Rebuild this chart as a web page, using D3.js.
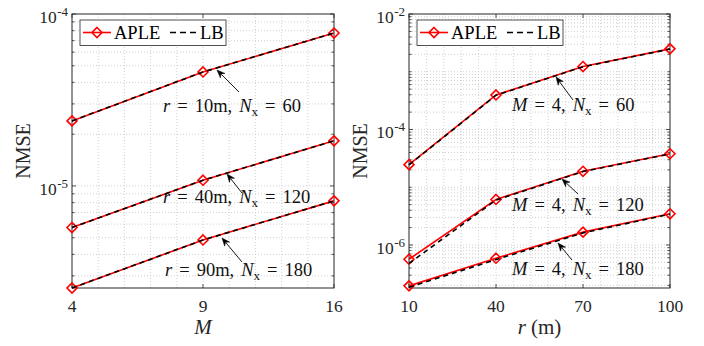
<!DOCTYPE html>
<html><head><meta charset="utf-8">
<script src="https://cdn.jsdelivr.net/npm/d3@7"></script>
<style>body{margin:0;background:#fff} svg{display:block} text{font-family:"Liberation Serif","Times New Roman",serif}</style>
</head><body><svg id="c" width="704" height="346"></svg>
<script>
// ---------- data ----------
const mValues = [4, 9, 16];
const mTickLabels = ["4", "9", "16"];
const apleR10 = [2.39e-5, 4.6e-5, 7.75e-5];
const lbR10   = [2.39e-5, 4.6e-5, 7.75e-5];
const apleR40 = [5.73e-6, 1.08e-5, 1.83e-5];
const lbR40   = [5.73e-6, 1.08e-5, 1.83e-5];
const apleR90 = [2.55e-6, 4.85e-6, 8.19e-6];
const lbR90   = [2.55e-6, 4.85e-6, 8.19e-6];
const leftYTicks = [1e-5, 1e-4];

const rValues = [10, 40, 70, 100];
const rTickLabels = ["10", "40", "70", "100"];
const apleN60  = [2.46e-5, 3.96e-4, 1.23e-3, 2.49e-3];
const lbN60    = [2.44e-5, 3.92e-4, 1.22e-3, 2.47e-3];
const apleN120 = [5.67e-7, 6.14e-6, 1.89e-5, 3.81e-5];
const lbN120   = [4.8e-7, 6.0e-6, 1.87e-5, 3.78e-5];
const apleN180 = [1.96e-7, 5.9e-7, 1.67e-6, 3.47e-6];
const lbN180   = [1.85e-7, 5.6e-7, 1.62e-6, 3.42e-6];
const rightYTicks = [1e-6, 1e-4, 1e-2];

const legendNames = ["APLE", "LB"];
const leftNotes = [
  {m:"r", v:"10m", n:"60"},
  {m:"r", v:"40m", n:"120"},
  {m:"r", v:"90m", n:"180"}
];
const rightNotes = [
  {m:"M", v:"4", n:"60"},
  {m:"M", v:"4", n:"120"},
  {m:"M", v:"4", n:"180"}
];

// ---------- drawing ----------
const svg = d3.select('#c');
const AX = '#262626';
const RED = '#ff0000';

function logGridValues(dom) {
  const out = [];
  const e0 = Math.floor(Math.log10(dom[0])), e1 = Math.ceil(Math.log10(dom[1]));
  for (let e = e0; e <= e1; e++) for (let k = 1; k <= 9; k++) {
    const v = k * Math.pow(10, e);
    if (v > dom[0] * 1.0001 && v < dom[1] * 0.9999) out.push(v);
  }
  return out;
}

function drawPanel(cfg) {
  const {x, y, xTicks, xTickLabels, xMinor, yTicks, xLabel, series, notes} = cfg;
  const [xa, xb] = x.range(); const [yb, ya] = y.range();
  const g = svg.append('g');
  // grid
  const yGrid = logGridValues(y.domain());
  g.selectAll('.gy').data(yGrid).join('line')
    .attr('x1', xa).attr('x2', xb).attr('y1', d => y(d)).attr('y2', d => y(d))
    .attr('stroke', '#c4c4c4').attr('stroke-width', 0.8).attr('stroke-dasharray', '1,2');
  g.selectAll('.gx').data(xMinor).join('line')
    .attr('y1', ya).attr('y2', yb).attr('x1', d => x(d)).attr('x2', d => x(d))
    .attr('stroke', '#c4c4c4').attr('stroke-width', 0.8).attr('stroke-dasharray', '1,2');
  // ticks (inward, on all sides)
  const yMinor = yGrid.filter(v => !yTicks.some(t => Math.abs(t - v) / t < 1e-6));
  const tk = g.append('g').attr('stroke', AX).attr('stroke-width', 0.8);
  yTicks.forEach(v => {
    tk.append('line').attr('x1', xa).attr('x2', xa + 4).attr('y1', y(v)).attr('y2', y(v));
    tk.append('line').attr('x1', xb).attr('x2', xb - 4).attr('y1', y(v)).attr('y2', y(v));
  });
  yMinor.forEach(v => {
    tk.append('line').attr('x1', xa).attr('x2', xa + 2.5).attr('y1', y(v)).attr('y2', y(v));
    tk.append('line').attr('x1', xb).attr('x2', xb - 2.5).attr('y1', y(v)).attr('y2', y(v));
  });
  xTicks.forEach(v => {
    tk.append('line').attr('x1', x(v)).attr('x2', x(v)).attr('y1', yb).attr('y2', yb - 4);
    tk.append('line').attr('x1', x(v)).attr('x2', x(v)).attr('y1', ya).attr('y2', ya + 4);
  });
  // box
  g.append('rect').attr('x', xa).attr('y', ya).attr('width', xb - xa).attr('height', yb - ya)
    .attr('fill', 'none').attr('stroke', AX).attr('stroke-width', 1);
  // x tick labels
  xTicks.forEach((v, i) => {
    g.append('text').attr('x', x(v)).attr('y', 311.5).attr('text-anchor', 'middle')
      .attr('font-size', 17.5).attr('fill', AX).text(xTickLabels[i]);
  });
  // y tick labels
  yTicks.forEach(v => {
    const t = g.append('text').attr('x', xa - 4).attr('y', y(v) + 9).attr('text-anchor', 'end')
      .attr('font-size', 17.5).attr('fill', AX);
    t.append('tspan').text('10');
    t.append('tspan').attr('font-size', 13).attr('dy', -7).attr('dx', 0.5).text('-' + Math.round(-Math.log10(v)));
  });
  // axis labels
  const xl = g.append('text').attr('x', (xa + xb) / 2).attr('y', 334).attr('text-anchor', 'middle')
    .attr('font-size', 21).attr('fill', AX);
  xLabel(xl);
  g.append('text').attr('transform', `translate(${xa - 42},${(ya + yb) / 2}) rotate(-90)`)
    .attr('text-anchor', 'middle').attr('font-size', 20).attr('fill', AX).text('NMSE');
  // data
  const line = d3.line().x(d => x(d[0])).y(d => y(d[1]));
  const diamond = 'M0,-5L5,0L0,5L-5,0Z';
  series.forEach(s => {
    const pa = s.xs.map((xv, i) => [xv, s.aple[i]]);
    const pb = s.xs.map((xv, i) => [xv, s.lb[i]]);
    g.append('path').attr('d', line(pa)).attr('fill', 'none').attr('stroke', RED).attr('stroke-width', 1.6);
    g.selectAll(null).data(pa).join('path').attr('d', diamond)
      .attr('transform', d => `translate(${x(d[0])},${y(d[1])})`)
      .attr('fill', 'none').attr('stroke', RED).attr('stroke-width', 1.6);
    g.append('path').attr('d', line(pb)).attr('fill', 'none').attr('stroke', '#000')
      .attr('stroke-width', 1.6).attr('stroke-dasharray', '5,4');
  });
  // annotations
  notes.forEach(n => {
    mathText(g, n.tx, n.ty, n.d);
    arrow(g, n.ax, n.ay, n.hx, n.hy);
  });
  // legend
  const lg = g.append('g');
  const lx = xa + 8, ly = 20;
  lg.append('rect').attr('x', lx).attr('y', ly).attr('width', 146).attr('height', 25.5)
    .attr('fill', '#fff').attr('stroke', AX).attr('stroke-width', 0.8);
  lg.append('line').attr('x1', lx + 3).attr('x2', lx + 31).attr('y1', ly + 12.5).attr('y2', ly + 12.5)
    .attr('stroke', RED).attr('stroke-width', 1.6);
  lg.append('path').attr('d', diamond).attr('transform', `translate(${lx + 17},${ly + 12.5})`)
    .attr('fill', 'none').attr('stroke', RED).attr('stroke-width', 1.6);
  lg.append('text').attr('x', lx + 34).attr('y', ly + 18.5).attr('font-size', 18.5).attr('fill', '#000').text(legendNames[0]);
  lg.append('line').attr('x1', lx + 90).attr('x2', lx + 118).attr('y1', ly + 12.5).attr('y2', ly + 12.5)
    .attr('stroke', '#000').attr('stroke-width', 1.6).attr('stroke-dasharray', '6,4');
  lg.append('text').attr('x', lx + 120).attr('y', ly + 18.5).attr('font-size', 18.5).attr('fill', '#000').text(legendNames[1]);
}

function mathText(g, x, y, d) {
  const fs = 18.5;
  const t = g.append('text').attr('x', x).attr('y', y).attr('font-size', fs).attr('fill', '#111');
  t.append('tspan').attr('font-style', 'italic').text(d.m);
  t.append('tspan').attr('dx', 7).text('=');
  t.append('tspan').attr('dx', 7).text(d.v + ',');
  t.append('tspan').attr('dx', 7).attr('font-style', 'italic').text('N');
  t.append('tspan').attr('font-size', 13).attr('dy', 4).text('x');
  t.append('tspan').attr('dx', 7).attr('dy', -4).text('=');
  t.append('tspan').attr('dx', 7).text(d.n);
}

function arrow(g, x1, y1, x2, y2) {
  const ang = Math.atan2(y2 - y1, x2 - x1);
  const L = 8, Wd = 3.2;
  const bx = x2 - L * Math.cos(ang), by = y2 - L * Math.sin(ang);
  g.append('line').attr('x1', x1).attr('y1', y1).attr('x2', bx + 2 * Math.cos(ang)).attr('y2', by + 2 * Math.sin(ang))
    .attr('stroke', '#000').attr('stroke-width', 0.9);
  const px = -Math.sin(ang), py = Math.cos(ang);
  const nx = x2 - (L - 2.5) * Math.cos(ang), ny = y2 - (L - 2.5) * Math.sin(ang);
  g.append('path').attr('d', `M${x2},${y2}L${bx + Wd * px},${by + Wd * py}L${nx},${ny}L${bx - Wd * px},${by - Wd * py}Z`)
    .attr('fill', '#000').attr('stroke', '#000').attr('stroke-width', 0.5);
}

const xL = d3.scalePow().exponent(0.5).domain([4, 16]).range([72, 334]);
const yL = d3.scaleLog().domain([2.55e-6, 1e-4]).range([288, 14]);
const xR = d3.scaleLinear().domain([10, 100]).range([409, 670]);
const yR = d3.scaleLog().domain([1.8e-7, 1e-2]).range([288, 14]);

const leftMinor = d3.range(1, 10).map(k => Math.pow(2 + 0.2 * k, 2));
const rightMinor = d3.range(1, 15).map(k => 10 + 6 * k);

drawPanel({
  x: xL, y: yL, xTicks: mValues, xTickLabels: mTickLabels, xMinor: leftMinor, yTicks: leftYTicks,
  xLabel: t => t.append('tspan').attr('font-style', 'italic').text('M'),
  series: [
    {xs: mValues, aple: apleR10, lb: lbR10},
    {xs: mValues, aple: apleR40, lb: lbR40},
    {xs: mValues, aple: apleR90, lb: lbR90}
  ],
  notes: [
    {d: leftNotes[0], tx: 163, ty: 112, ax: 239, ay: 92, hx: 217, hy: 70},
    {d: leftNotes[1], tx: 163, ty: 203, ax: 242, ay: 193, hx: 227, hy: 174},
    {d: leftNotes[2], tx: 165, ty: 275.5, ax: 242, ay: 262, hx: 222, hy: 238}
  ]
});
drawPanel({
  x: xR, y: yR, xTicks: rValues, xTickLabels: rTickLabels, xMinor: rightMinor, yTicks: rightYTicks,
  xLabel: t => { t.append('tspan').attr('font-style', 'italic').text('r'); t.append('tspan').attr('dx', 5).text('(m)'); },
  series: [
    {xs: rValues, aple: apleN60, lb: lbN60},
    {xs: rValues, aple: apleN120, lb: lbN120},
    {xs: rValues, aple: apleN180, lb: lbN180}
  ],
  notes: [
    {d: rightNotes[0], tx: 512, ty: 111, ax: 573, ay: 100, hx: 556, hy: 77},
    {d: rightNotes[1], tx: 512, ty: 210.5, ax: 578, ay: 194, hx: 562, hy: 179},
    {d: rightNotes[2], tx: 512, ty: 275, ax: 572, ay: 260, hx: 558, hy: 243}
  ]
});
</script></body></html>
